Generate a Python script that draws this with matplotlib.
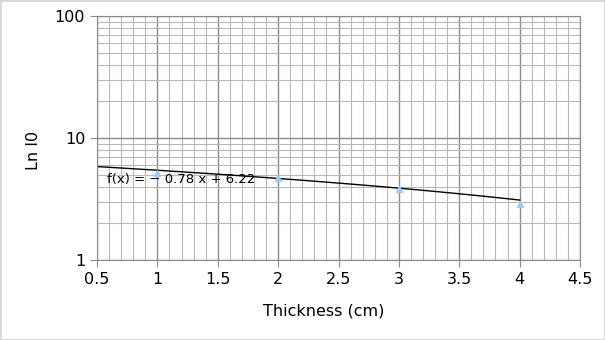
import numpy as np
import matplotlib
matplotlib.use('Agg')
import matplotlib.pyplot as plt
from matplotlib.ticker import LogLocator, MultipleLocator, FixedLocator, NullFormatter

# data
thickness = [1, 2, 3, 4]
ln_i0 = [5.2, 4.7, 3.8, 2.9]
slope = -0.78
intercept = 6.22
fit_range = [0.5, 4]
x_ticks = [0.5, 1, 1.5, 2, 2.5, 3, 3.5, 4, 4.5]
x_tick_labels = ['0.5', '1', '1.5', '2', '2.5', '3', '3.5', '4', '4.5']
y_ticks = [1, 10, 100]
y_tick_labels = ['1', '10', '100']

fig = plt.figure(figsize=(6.05, 3.4), dpi=100)
fig.patch.set_edgecolor('#d9d9d9')
fig.patch.set_linewidth(2)
ax = fig.add_axes([97 / 605, 80 / 340, 483 / 605, 244 / 340])

ax.set_yscale('log')
ax.set_xlim(0.5, 4.5)
ax.set_ylim(1, 100)

ax.xaxis.set_major_locator(FixedLocator(x_ticks))
ax.xaxis.set_minor_locator(MultipleLocator(0.1))
ax.yaxis.set_major_locator(FixedLocator(y_ticks))
ax.yaxis.set_minor_locator(LogLocator(base=10, subs=np.arange(2, 10)))
ax.yaxis.set_minor_formatter(NullFormatter())
ax.set_yticklabels(y_tick_labels)
ax.set_xticklabels(x_tick_labels)

ax.grid(True, which='major', color='#8c8c8c', linewidth=1)
ax.grid(True, which='minor', color='#b8b8b8', linewidth=0.8)
ax.set_axisbelow(True)
for s in ax.spines.values():
    s.set_color('#8c8c8c')
ax.tick_params(which='major', length=5, color='#8c8c8c', labelsize=11.5)
ax.tick_params(which='minor', length=0)

xs = np.linspace(fit_range[0], fit_range[1], 50)
ax.plot(xs, slope * xs + intercept, color='black', linewidth=1)
ax.plot(thickness, ln_i0, linestyle='none', marker='^', color='#99ccff', markersize=5)

ax.text(0.58, 4.6, 'f(x) = − 0.78 x + 6.22', fontsize=9.5, va='center', ha='left')

ax.set_xlabel('Thickness (cm)', fontsize=11.5)
ax.xaxis.set_label_coords(0.47, -0.18)
ax.set_ylabel('Ln I0', fontsize=11.5)
ax.yaxis.set_label_coords(-0.115, 0.45)

fig.savefig('out.png', dpi=100)
